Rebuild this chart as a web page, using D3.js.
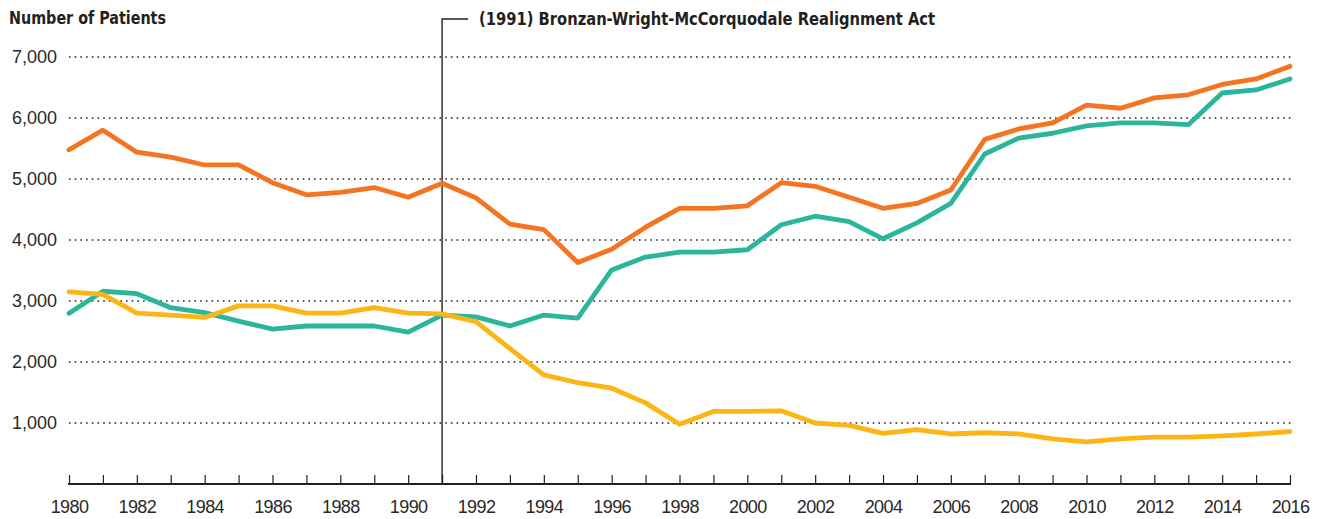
<!DOCTYPE html>
<html lang="en">
<head>
<meta charset="UTF-8">
<title>Number of Patients</title>
<style>
    body { margin: 0; background: #fff; }
    svg { display: block; font-family: "Liberation Sans", Arial, sans-serif; }
    .tick text { fill: #2b2829; font-size: 18px; font-family: "Liberation Sans", Arial, sans-serif; }
    .bold { font-family: "DejaVu Sans Condensed", "Liberation Sans Narrow", sans-serif; font-weight: bold; font-size: 17.5px; fill: #231f20; }
    .grid line { stroke: #231f20; stroke-width: 1.6; stroke-dasharray: 1.6 4.1; }
</style>
</head>
<body>
<div id="chart"></div>
<script src="https://d3js.org/d3.v7.min.js"></script>
<script>
    // Dati
    const years = d3.range(1980, 2017);
    const orangeValues = [5480, 5800, 5440, 5360, 5230, 5230, 4940, 4740, 4780, 4860, 4700,
        4930, 4690, 4260, 4170, 3630, 3850, 4210, 4520, 4520, 4560, 4940, 4880, 4700, 4520,
        4600, 4820, 5650, 5820, 5920, 6210, 6160, 6330, 6380, 6550, 6640, 6850];
    const tealValues = [2800, 3160, 3120, 2890, 2810, 2670, 2540, 2590, 2590, 2590, 2490,
        2770, 2740, 2590, 2770, 2720, 3510, 3720, 3800, 3800, 3840, 4250, 4390, 4300, 4020,
        4280, 4600, 5410, 5670, 5750, 5870, 5920, 5920, 5890, 6410, 6460, 6640];
    const yellowValues = [3150, 3110, 2800, 2770, 2730, 2920, 2920, 2800, 2800, 2890, 2800,
        2790, 2660, 2220, 1790, 1660, 1570, 1330, 980, 1190, 1190, 1200, 1000, 960, 830,
        890, 820, 840, 820, 740, 690, 740, 770, 770, 790, 820, 860];
    const yTicks = [1000, 2000, 3000, 4000, 5000, 6000, 7000];
    const xLabelYears = d3.range(1980, 2017, 2);
    const eventYear = 1991;
    const eventLabel = "(1991) Bronzan-Wright-McCorquodale Realignment Act";
    const yTitle = "Number of Patients";

    const series = [
        {name: "orange", values: orangeValues, color: "#f47421"},
        {name: "teal", values: tealValues, color: "#2bb59d"},
        {name: "yellow", values: yellowValues, color: "#fdb515"}
    ];

    const width = 1323, height = 519;
    const x = d3.scaleLinear().domain([1980, 2016]).range([69, 1290]);
    const y = d3.scaleLinear().domain([0, 7000]).range([484, 57]);

    const svg = d3.select("#chart").append("svg")
        .attr("width", width)
        .attr("height", height);

    // Griglia tratteggiata
    svg.append("g")
        .attr("class", "grid")
        .selectAll("line")
        .data(yTicks)
        .join("line")
        .attr("x1", x(1980))
        .attr("x2", x(2016) + 2)
        .attr("y1", d => y(d))
        .attr("y2", d => y(d));

    // Etichette asse y
    svg.append("g")
        .attr("class", "tick")
        .selectAll("text")
        .data(yTicks)
        .join("text")
        .attr("x", 57)
        .attr("y", d => y(d))
        .attr("dy", "0.36em")
        .attr("text-anchor", "end")
        .text(d3.format(","));

    svg.append("text")
        .attr("class", "bold")
        .attr("x", 9)
        .attr("y", 24)
        .attr("textLength", 157)
        .attr("lengthAdjust", "spacingAndGlyphs")
        .text(yTitle);

    // Asse x
    const xAxis = d3.axisBottom(x)
        .tickValues(years)
        .tickSize(-9)
        .tickFormat(d => xLabelYears.includes(d) ? d : "");
    const gx = svg.append("g")
        .attr("transform", `translate(0,${y(0)})`)
        .call(xAxis);
    gx.select(".domain").remove();
    gx.selectAll(".tick line").attr("stroke", "#231f20").attr("stroke-width", 1.2);
    gx.selectAll(".tick text")
        .attr("y", 16)
        .attr("dy", "0.71em")
        .style("letter-spacing", "-0.6px");
    gx.append("line")
        .attr("x1", x(1980) - 1)
        .attr("x2", x(2016) + 1)
        .attr("stroke", "#231f20")
        .attr("stroke-width", 2.2);

    // Linea dell'evento
    svg.append("path")
        .attr("d", `M${x(eventYear)},${y(0)}V19H${x(eventYear) + 26}`)
        .attr("fill", "none")
        .attr("stroke", "#231f20")
        .attr("stroke-width", 1.4);

    svg.append("text")
        .attr("class", "bold")
        .attr("x", x(eventYear) + 37)
        .attr("y", 25)
        .attr("textLength", 456)
        .attr("lengthAdjust", "spacingAndGlyphs")
        .text(eventLabel);

    // Linee
    const line = d3.line()
        .x((d, i) => x(years[i]))
        .y(d => y(d));

    svg.append("g")
        .selectAll("path")
        .data(series)
        .join("path")
        .attr("d", d => line(d.values))
        .attr("fill", "none")
        .attr("stroke", d => d.color)
        .attr("stroke-width", 4.8)
        .attr("stroke-linejoin", "round")
        .attr("stroke-linecap", "round");
</script>
</body>
</html>
